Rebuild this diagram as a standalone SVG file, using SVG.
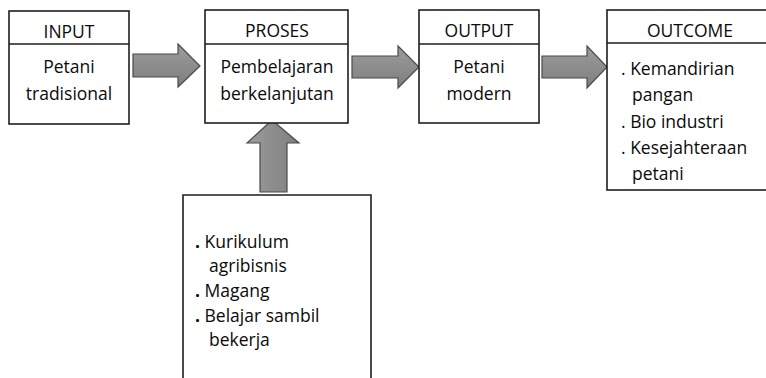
<svg xmlns="http://www.w3.org/2000/svg" width="766" height="378" viewBox="0 0 766 378">
  <defs>
    <linearGradient id="arrowFill" x1="0" y1="0" x2="0" y2="1">
      <stop offset="0" stop-color="#9c9c9c"/>
      <stop offset="1" stop-color="#7e7e7e"/>
    </linearGradient>
    <linearGradient id="arrowFillV" x1="0" y1="0" x2="1" y2="0">
      <stop offset="0" stop-color="#9c9c9c"/>
      <stop offset="1" stop-color="#7e7e7e"/>
    </linearGradient>
    <style>
      .box { fill: #ffffff; stroke: #1e1e1e; stroke-width: 1.6; }
      .rule { stroke: #1e1e1e; stroke-width: 1.6; }
      .arrow { fill: url(#arrowFill); stroke: #4a4a4a; stroke-width: 1.2; stroke-linejoin: miter; }
      .arrowV { fill: url(#arrowFillV); stroke: #4a4a4a; stroke-width: 1.2; }
      text { font-family: "Open Sans", "Liberation Sans", sans-serif; font-size: 17.5px; fill: #0a0a0a; }
      .c { text-anchor: middle; }
      .dot { font-weight: bold; }
    </style>
  </defs>

  <rect width="766" height="378" fill="#ffffff"/>

  <!-- connectors: block arrows -->
  <g id="connectors">
    <polygon class="arrow" points="133,54 178,54 178,44 200,66 178,87 178,77 133,77"/>
    <polygon class="arrow" points="352,56 398,56 398,46 419,67 398,88 398,78 352,78"/>
    <polygon class="arrow" points="542,56 587,56 587,46 607,67 587,88 587,78 542,78"/>
    <polygon class="arrowV" points="260,192 260,143 247,143 272,120 299,143 287,143 287,192"/>
  </g>

  <g id="input">
    <rect class="box" x="9" y="11" width="120" height="113"/>
    <line class="rule" x1="9" y1="44" x2="129" y2="44"/>
    <text class="c" x="69" y="38">INPUT</text>
    <text class="c" x="69" y="73">Petani</text>
    <text class="c" x="69" y="100">tradisional</text>
  </g>

  <g id="proses">
    <rect class="box" x="205" y="10" width="143" height="113"/>
    <line class="rule" x1="205" y1="44" x2="348" y2="44"/>
    <text class="c" x="277" y="37">PROSES</text>
    <text class="c" x="277" y="73">Pembelajaran</text>
    <text class="c" x="277" y="100">berkelanjutan</text>
  </g>

  <g id="output">
    <rect class="box" x="419" y="10" width="120" height="113"/>
    <line class="rule" x1="419" y1="44" x2="539" y2="44"/>
    <text class="c" x="479" y="37">OUTPUT</text>
    <text class="c" x="479" y="73">Petani</text>
    <text class="c" x="479" y="100">modern</text>
  </g>

  <g id="outcome">
    <rect class="box" x="607" y="10" width="170" height="180"/>
    <line class="rule" x1="607" y1="43" x2="766" y2="43"/>
    <text class="c" x="690" y="37">OUTCOME</text>
    <text x="621" y="75">. Kemandirian</text>
    <text x="632" y="101">pangan</text>
    <text x="621" y="128">. Bio industri</text>
    <text x="621" y="154">. Kesejahteraan</text>
    <text x="632" y="180">petani</text>
  </g>

  <g id="pendukung">
    <polyline class="box" points="183,380 183,195 371,195 371,380"/>
    <text x="195" y="248"><tspan class="dot">.</tspan> Kurikulum</text>
    <text x="209" y="272">agribisnis</text>
    <text x="195" y="297"><tspan class="dot">.</tspan> Magang</text>
    <text x="195" y="322"><tspan class="dot">.</tspan> Belajar sambil</text>
    <text x="209" y="346">bekerja</text>
  </g>
</svg>
